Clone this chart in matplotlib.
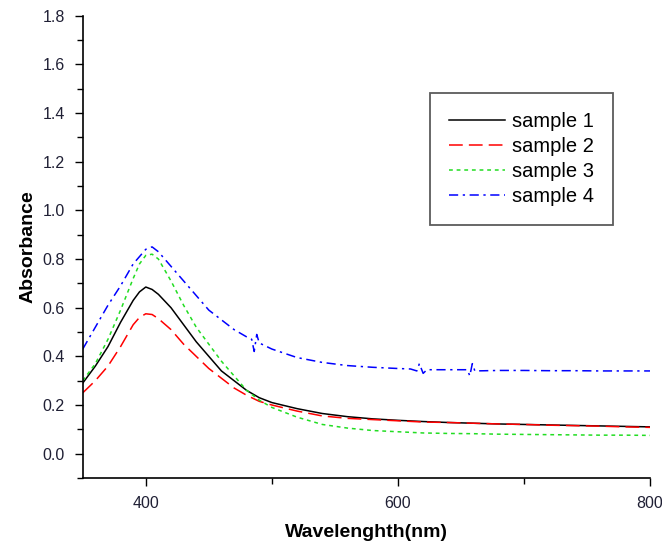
import matplotlib
matplotlib.use("Agg")
import matplotlib.pyplot as plt
from matplotlib.ticker import MultipleLocator

plt.rcParams['font.family'] = ['Liberation Sans', 'DejaVu Sans']

wl = [350, 360, 370, 380, 390, 395, 400, 405, 410, 420, 430, 440, 450, 460, 470, 480, 490,
      500, 520, 540, 560, 580, 600, 620, 640, 660, 680, 700, 720, 740, 760, 780, 800]
sample1 = [0.29, 0.36, 0.44, 0.54, 0.63, 0.665, 0.685, 0.675, 0.655, 0.60, 0.53, 0.46, 0.40, 0.34, 0.30, 0.26, 0.23,
           0.21, 0.185, 0.165, 0.152, 0.143, 0.137, 0.132, 0.128, 0.125, 0.122, 0.12, 0.118, 0.116, 0.114, 0.112, 0.11]
sample2 = [0.25, 0.30, 0.36, 0.44, 0.53, 0.56, 0.575, 0.572, 0.555, 0.51, 0.45, 0.40, 0.35, 0.31, 0.27, 0.24, 0.215,
           0.20, 0.175, 0.155, 0.145, 0.14, 0.135, 0.13, 0.128, 0.125, 0.122, 0.12, 0.117, 0.115, 0.113, 0.11, 0.108]
sample3 = [0.30, 0.37, 0.47, 0.59, 0.72, 0.78, 0.815, 0.82, 0.80, 0.71, 0.61, 0.52, 0.45, 0.38, 0.32, 0.26, 0.22,
           0.19, 0.15, 0.12, 0.105, 0.095, 0.09, 0.085, 0.083, 0.082, 0.08, 0.079, 0.078, 0.077, 0.076, 0.076, 0.075]

wl4 = [350, 360, 370, 380, 390, 400, 405, 410, 420, 430, 440, 450, 460, 470, 480, 484, 486, 488, 490,
       500, 520, 540, 560, 580, 600, 610, 615, 617, 620, 623, 640, 655, 657, 659, 661, 680, 700, 720, 740, 760, 780, 800]
sample4 = [0.43, 0.52, 0.61, 0.69, 0.78, 0.84, 0.85, 0.83, 0.77, 0.71, 0.65, 0.59, 0.55, 0.51, 0.48, 0.47, 0.42, 0.49, 0.455,
           0.43, 0.395, 0.375, 0.362, 0.355, 0.35, 0.348, 0.34, 0.37, 0.33, 0.345, 0.345, 0.345, 0.32, 0.37, 0.34, 0.342, 0.342, 0.341, 0.341, 0.34, 0.34, 0.34]

yticks = [0.0, 0.2, 0.4, 0.6, 0.8, 1.0, 1.2, 1.4, 1.6, 1.8]
xticks = [400, 600, 800]

fig = plt.figure(figsize=(6.62, 5.45), dpi=100)
ax = fig.add_axes([0.125, 0.123, 0.857, 0.848])

ax.plot(wl, sample1, color='black', lw=1.1, ls='-', label='sample 1')
ax.plot(wl, sample2, color='red', lw=1.1, ls=(0, (9, 4)), label='sample 2')
ax.plot(wl, sample3, color='#22dd22', lw=1.1, ls=(0, (2.5, 2.5)), label='sample 3')
ax.plot(wl4, sample4, color='blue', lw=1.1, ls=(0, (6, 3, 1.5, 3)), label='sample 4')

ax.set_xlim(350, 800)
ax.set_ylim(-0.1, 1.8)
ax.set_xticks(xticks)
ax.xaxis.set_minor_locator(MultipleLocator(100))
ax.set_yticks(yticks)
ax.set_yticklabels([f"{v:.1f}" for v in yticks])
ax.yaxis.set_minor_locator(MultipleLocator(0.1))

for s in ['top', 'right']:
    ax.spines[s].set_visible(False)
for s in ['left', 'bottom']:
    ax.spines[s].set_linewidth(1.2)

ax.tick_params(axis='both', which='major', direction='out', length=6, width=1, labelsize=11.5,
               colors='black', labelcolor='#202035', pad=7)
ax.tick_params(axis='both', which='minor', direction='out', length=4, width=1)

ax.set_xlabel('Wavelenghth(nm)', fontsize=14, fontweight='bold', labelpad=9)
ax.set_ylabel('Absorbance', fontsize=14, fontweight='bold', labelpad=4)

leg = ax.legend(loc='upper left', bbox_to_anchor=(0.612, 0.833), fontsize=14.5, frameon=True,
                fancybox=False, edgecolor='#333333', handlelength=2.8, handletextpad=0.3,
                labelspacing=0.3, borderpad=0.95, borderaxespad=0)
leg.get_frame().set_linewidth(1.3)

fig.savefig('out.png', dpi=100)
